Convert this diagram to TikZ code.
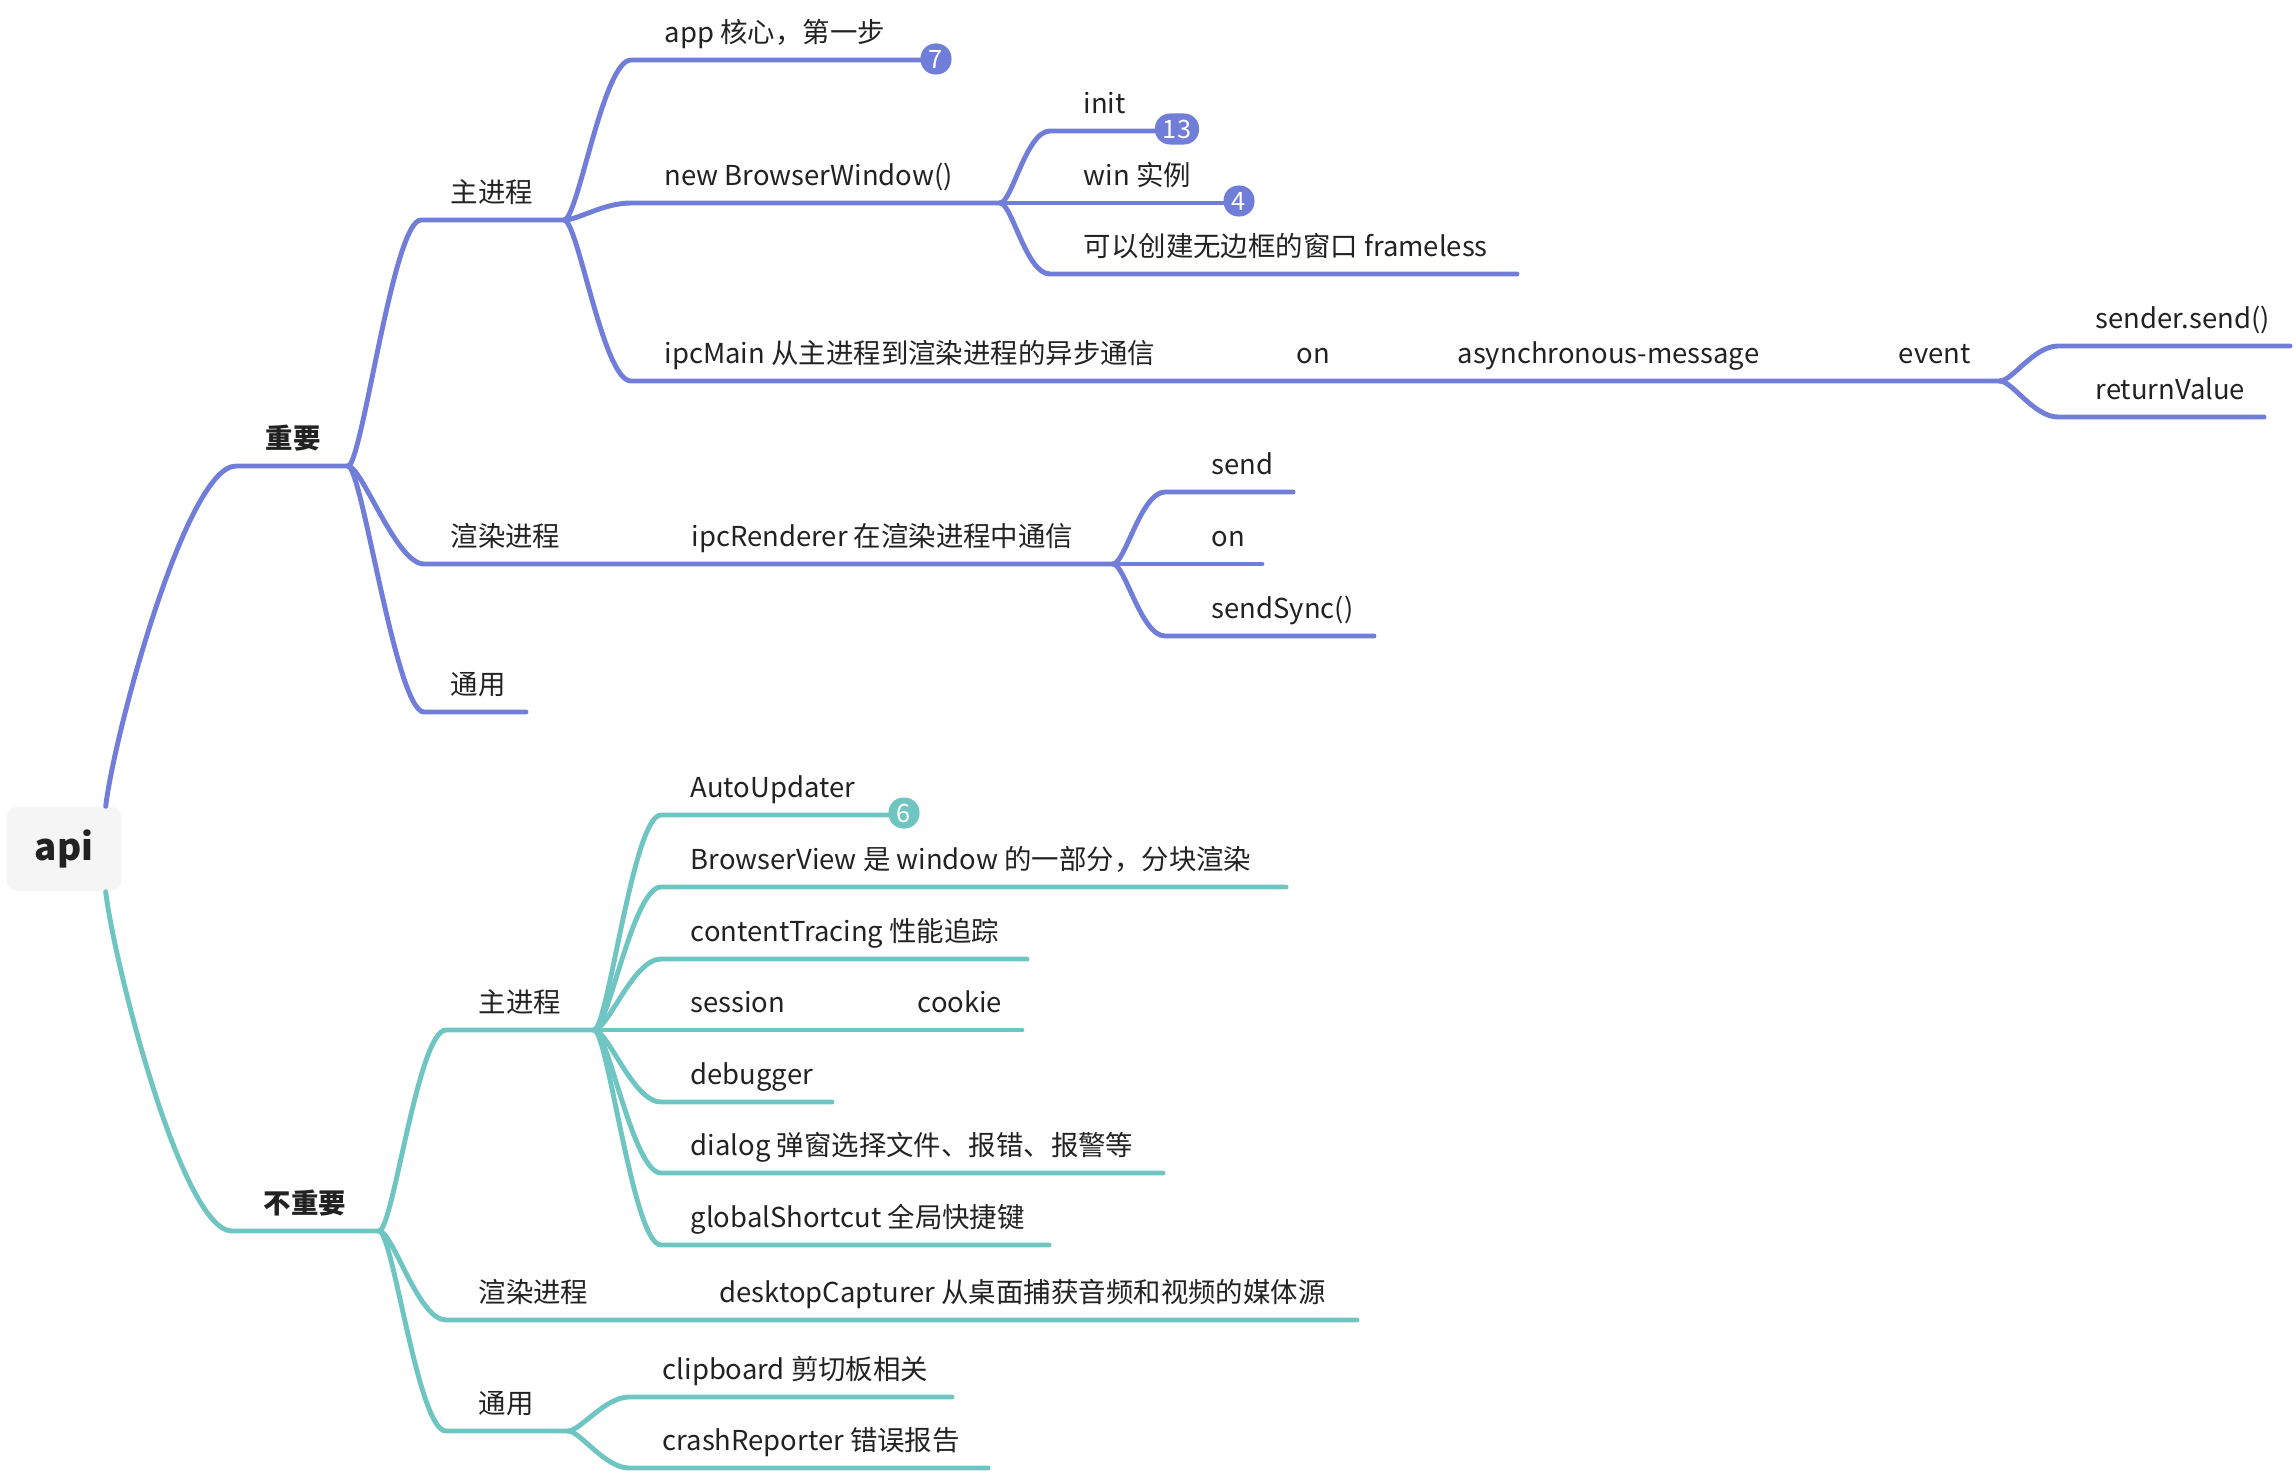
\documentclass[tikz,border=0pt]{standalone}
\usepackage{fontspec}
\setmainfont{Noto Sans CJK SC}
\usepackage{tikz}

\definecolor{impblue}{RGB}{112,126,217}
\definecolor{unimpteal}{RGB}{110,197,194}
\definecolor{rootgray}{RGB}{245,245,245}
\definecolor{textdark}{RGB}{34,34,34}

\tikzset{
    topic/.style={anchor=base west,inner sep=0pt,text=textdark,
        font=\fontsize{7.8pt}{9pt}\selectfont},
    headtopic/.style={topic,font=\fontsize{7.8pt}{9pt}\selectfont\bfseries},
    rootbox/.style={fill=rootgray,rounded corners=0.1cm,
        minimum width=1.14cm,minimum height=0.84cm,text=textdark,
        font=\fontsize{10.5pt}{12pt}\selectfont\bfseries},
    impline/.style={draw=impblue,line width=1.4pt,line cap=round},
    unimpline/.style={draw=unimpteal,line width=1.4pt,line cap=round},
    badge/.style={rectangle,rounded corners=0.15cm,minimum height=0.31cm,
        minimum width=0.31cm,inner xsep=0.08cm,inner ysep=0pt,text=white,
        font=\fontsize{7.2pt}{8pt}\selectfont},
    impbadge/.style={badge,fill=impblue},
    unimpbadge/.style={badge,fill=unimpteal}
}

\begin{document}
\begin{tikzpicture}[x=0.01cm,y=-0.01cm]
        \useasboundingbox (0,0) rectangle (2296,1472);

        % root
        \node[rootbox] (api) at (64,849) {api};

        % line ends of the important branch
        \coordinate (imp-s) at (236,466);   \coordinate (imp-e) at (348,466);
        \coordinate (bmain-s) at (421,220); \coordinate (bmain-e) at (564,220);
        \coordinate (brender-s) at (424,564); \coordinate (brender-e) at (660,564);
        \coordinate (bcommon-s) at (424,712); \coordinate (bcommon-e) at (526,712);
        \coordinate (app-s) at (631,60);
        \coordinate (newwin-s) at (631,203); \coordinate (newwin-e) at (1000,203);
        \coordinate (ipcmain-s) at (631,381); \coordinate (on-s) at (1262,381);
        \coordinate (async-s) at (1424,381); \coordinate (event-s) at (1866,381);
        \coordinate (event-e) at (2000,381);
        \coordinate (sender-s) at (2058,346); \coordinate (sender-e) at (2290,346);
        \coordinate (retval-s) at (2058,417); \coordinate (retval-e) at (2264,417);
        \coordinate (init-s) at (1050,131);
        \coordinate (win-s) at (1050,203);
        \coordinate (frameless-s) at (1050,274); \coordinate (frameless-e) at (1517,274);
        \coordinate (ipcr-e) at (1113,564);
        \coordinate (send-s) at (1165,492); \coordinate (send-e) at (1293,492);
        \coordinate (rnon-s) at (1165,564); \coordinate (rnon-e) at (1262,564);
        \coordinate (sendsync-s) at (1165,636); \coordinate (sendsync-e) at (1374,636);

        % draw the important branch
        \draw[impline] ([xshift=-0.16cm]api.north east)
            .. controls +(8,-70) and +(-50,0) .. (imp-s) -- (imp-e);
        \draw[impline] (imp-e) .. controls +(14,0) and +(-28,0) .. (bmain-s) -- (bmain-e);
        \draw[impline] (imp-e) .. controls +(14,0) and +(-28,0) .. (brender-s)
            -- (brender-e) -- (ipcr-e);
        \draw[impline] (imp-e) .. controls +(14,0) and +(-28,0) .. (bcommon-s) -- (bcommon-e);
        \draw[impline] (bmain-e) .. controls +(14,0) and +(-28,0) .. (app-s) -- (936,60);
        \draw[impline] (bmain-e) .. controls +(14,0) and +(-28,0) .. (newwin-s) -- (newwin-e);
        \draw[impline] (bmain-e) .. controls +(14,0) and +(-28,0) .. (ipcmain-s)
            -- (on-s) -- (async-s) -- (event-s) -- (event-e);
        \draw[impline] (newwin-e) .. controls +(12,0) and +(-24,0) .. (init-s) -- (1177,131);
        \draw[impline] (newwin-e) -- (win-s) -- (1239,203);
        \draw[impline] (newwin-e) .. controls +(12,0) and +(-24,0) .. (frameless-s) -- (frameless-e);
        \draw[impline] (event-e) .. controls +(12,0) and +(-24,0) .. (sender-s) -- (sender-e);
        \draw[impline] (event-e) .. controls +(12,0) and +(-24,0) .. (retval-s) -- (retval-e);
        \draw[impline] (ipcr-e) .. controls +(12,0) and +(-24,0) .. (send-s) -- (send-e);
        \draw[impline] (ipcr-e) -- (rnon-s) -- (rnon-e);
        \draw[impline] (ipcr-e) .. controls +(12,0) and +(-24,0) .. (sendsync-s) -- (sendsync-e);

        \node[impbadge] (b7) at (936,59) {7};
        \node[impbadge] (b13) at (1177,129) {13};
        \node[impbadge] (b4) at (1239,201) {4};

        % texts of the important branch
        \node[headtopic] (imp) at (265,448) {重要};
        \node[topic] (bmain) at (450,202) {主进程};
        \node[topic] (brender) at (450,546) {渲染进程};
        \node[topic] (bcommon) at (450,694) {通用};
        \node[topic] (app) at (664,42) {app 核心，第一步};
        \node[topic] (newwin) at (664,185) {new BrowserWindow()};
        \node[topic] (ipcmain) at (664,363) {ipcMain 从主进程到渲染进程的异步通信};
        \node[topic] (on) at (1296,363) {on};
        \node[topic] (async) at (1457,363) {asynchronous-message};
        \node[topic] (event) at (1898,363) {event};
        \node[topic] (sender) at (2095,328) {sender.send()};
        \node[topic] (retval) at (2095,399) {returnValue};
        \node[topic] (init) at (1083,113) {init};
        \node[topic] (win) at (1083,185) {win 实例};
        \node[topic] (frameless) at (1083,256) {可以创建无边框的窗口 frameless};
        \node[topic] (ipcr) at (691,546) {ipcRenderer 在渲染进程中通信};
        \node[topic] (send) at (1211,474) {send};
        \node[topic] (rnon) at (1211,546) {on};
        \node[topic] (sendsync) at (1211,618) {sendSync()};

        % line ends of the unimportant branch
        \coordinate (unimp-s) at (232,1231); \coordinate (unimp-e) at (379,1231);
        \coordinate (tmain-s) at (446,1030); \coordinate (tmain-e) at (594,1030);
        \coordinate (trender-s) at (446,1320); \coordinate (desktop-s) at (690,1320);
        \coordinate (desktop-e) at (1357,1320);
        \coordinate (tcommon-s) at (446,1431); \coordinate (tcommon-e) at (568,1431);
        \coordinate (autoupd-s) at (661,815);
        \coordinate (bview-s) at (661,887); \coordinate (bview-e) at (1286,887);
        \coordinate (ctrace-s) at (661,959); \coordinate (ctrace-e) at (1027,959);
        \coordinate (session-s) at (661,1030); \coordinate (cookie-s) at (890,1030);
        \coordinate (cookie-e) at (1022,1030);
        \coordinate (debugger-s) at (661,1102); \coordinate (debugger-e) at (832,1102);
        \coordinate (dialog-s) at (661,1173); \coordinate (dialog-e) at (1163,1173);
        \coordinate (gshort-s) at (661,1245); \coordinate (gshort-e) at (1049,1245);
        \coordinate (clip-s) at (629,1397); \coordinate (clip-e) at (952,1397);
        \coordinate (crash-s) at (629,1468); \coordinate (crash-e) at (988,1468);

        % draw the unimportant branch
        \draw[unimpline] ([xshift=-0.16cm]api.south east)
            .. controls +(8,70) and +(-50,0) .. (unimp-s) -- (unimp-e);
        \draw[unimpline] (unimp-e) .. controls +(14,0) and +(-28,0) .. (tmain-s) -- (tmain-e);
        \draw[unimpline] (unimp-e) .. controls +(14,0) and +(-28,0) .. (trender-s)
            -- (desktop-s) -- (desktop-e);
        \draw[unimpline] (unimp-e) .. controls +(14,0) and +(-28,0) .. (tcommon-s) -- (tcommon-e);
        \draw[unimpline] (tmain-e) .. controls +(14,0) and +(-28,0) .. (autoupd-s) -- (904,815);
        \draw[unimpline] (tmain-e) .. controls +(14,0) and +(-28,0) .. (bview-s) -- (bview-e);
        \draw[unimpline] (tmain-e) .. controls +(14,0) and +(-28,0) .. (ctrace-s) -- (ctrace-e);
        \draw[unimpline] (tmain-e) -- (session-s) -- (cookie-s) -- (cookie-e);
        \draw[unimpline] (tmain-e) .. controls +(14,0) and +(-28,0) .. (debugger-s) -- (debugger-e);
        \draw[unimpline] (tmain-e) .. controls +(14,0) and +(-28,0) .. (dialog-s) -- (dialog-e);
        \draw[unimpline] (tmain-e) .. controls +(14,0) and +(-28,0) .. (gshort-s) -- (gshort-e);
        \draw[unimpline] (tcommon-e) .. controls +(12,0) and +(-24,0) .. (clip-s) -- (clip-e);
        \draw[unimpline] (tcommon-e) .. controls +(12,0) and +(-24,0) .. (crash-s) -- (crash-e);

        \node[unimpbadge] (b6) at (904,813) {6};

        % texts of the unimportant branch
        \node[headtopic] (unimp) at (263,1213) {不重要};
        \node[topic] (tmain) at (478,1012) {主进程};
        \node[topic] (trender) at (478,1302) {渲染进程};
        \node[topic] (tcommon) at (478,1413) {通用};
        \node[topic] (autoupd) at (690,797) {AutoUpdater};
        \node[topic] (bview) at (690,869) {BrowserView 是 window 的一部分，分块渲染};
        \node[topic] (ctrace) at (690,941) {contentTracing 性能追踪};
        \node[topic] (session) at (690,1012) {session};
        \node[topic] (cookie) at (917,1012) {cookie};
        \node[topic] (debugger) at (690,1084) {debugger};
        \node[topic] (dialog) at (690,1155) {dialog 弹窗选择文件、报错、报警等};
        \node[topic] (gshort) at (690,1227) {globalShortcut 全局快捷键};
        \node[topic] (desktop) at (719,1302) {desktopCapturer 从桌面捕获音频和视频的媒体源};
        \node[topic] (clip) at (662,1379) {clipboard 剪切板相关};
        \node[topic] (crash) at (662,1450) {crashReporter 错误报告};
\end{tikzpicture}
\end{document}
